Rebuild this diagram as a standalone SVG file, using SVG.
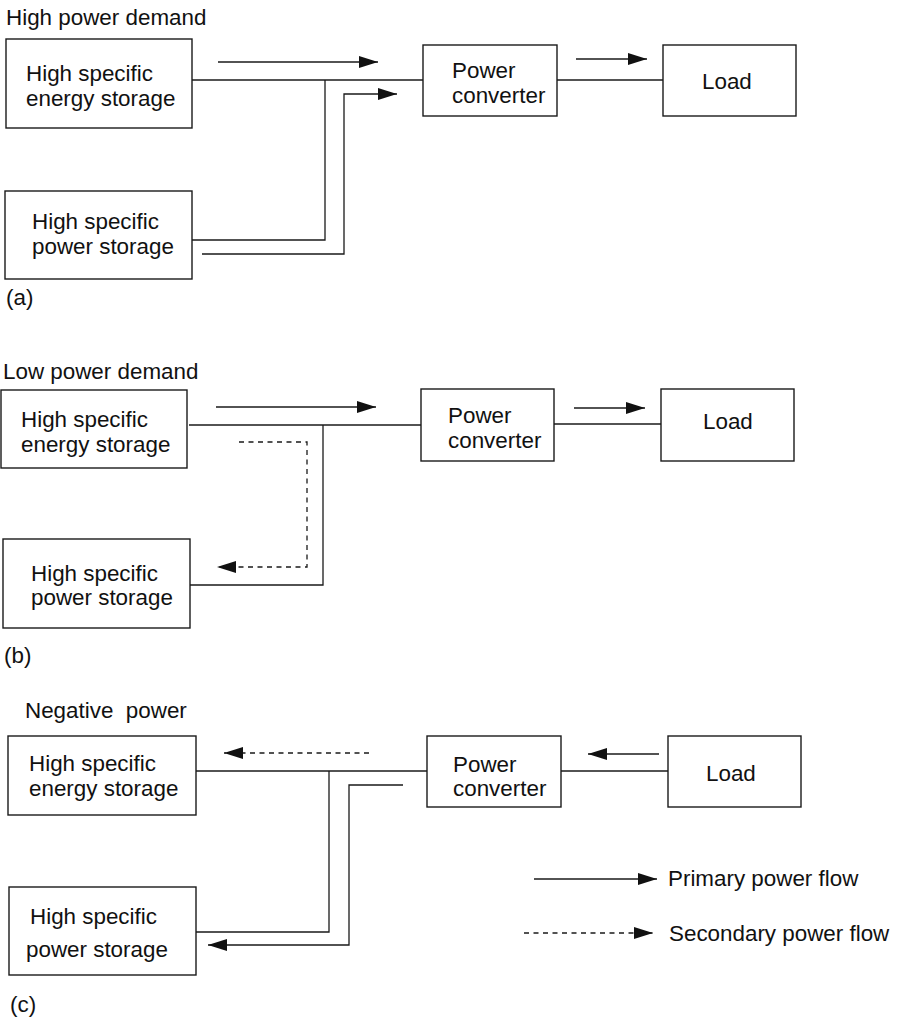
<svg xmlns="http://www.w3.org/2000/svg" width="897" height="1018" viewBox="0 0 897 1018">
<style>
.box{fill:#fff;stroke:#1a1a1a;stroke-width:1.4}
.ln{fill:none;stroke:#1a1a1a;stroke-width:1.3}
.dash{fill:none;stroke:#1a1a1a;stroke-width:1.3;stroke-dasharray:5 4.5}
text{font-family:"Liberation Sans",Arial,sans-serif;font-size:22.4px;fill:#111}
</style>
<defs>
<marker id="ah" markerUnits="userSpaceOnUse" markerWidth="19" markerHeight="12" refX="19" refY="6" orient="auto" viewBox="0 0 19 12">
<path d="M0,0 L19,6 L0,12 z" fill="#111" stroke="none"/>
</marker>
</defs>
<rect width="897" height="1018" fill="#fff"/>

<!-- Panel (a) -->
<text x="6" y="25">High power demand</text>
<text x="6" y="305">(a)</text>
<g id="a-energy"><rect class="box" x="6" y="39" width="186" height="89"/><text x="26" y="81">High specific</text><text x="26" y="106">energy storage</text></g>
<g id="a-power"><rect class="box" x="5" y="191" width="187" height="88"/><text x="32" y="229">High specific</text><text x="32" y="254">power storage</text></g>
<g id="a-conv"><rect class="box" x="423" y="45" width="134" height="71"/><text x="452" y="78">Power</text><text x="452" y="103">converter</text></g>
<g id="a-load"><rect class="box" x="663" y="45" width="133" height="71"/><text x="702" y="89">Load</text></g>

<!-- Panel (b) -->
<text x="3" y="379">Low power demand</text>
<text x="4" y="663">(b)</text>
<g id="b-energy"><rect class="box" x="1" y="390" width="186" height="78"/><text x="21" y="427">High specific</text><text x="21" y="452">energy storage</text></g>
<g id="b-power"><rect class="box" x="3" y="539" width="187" height="89"/><text x="31" y="581">High specific</text><text x="31" y="605">power storage</text></g>
<g id="b-conv"><rect class="box" x="421" y="389" width="133" height="72"/><text x="448" y="423">Power</text><text x="448" y="448">converter</text></g>
<g id="b-load"><rect class="box" x="661" y="389" width="133" height="72"/><text x="703" y="429">Load</text></g>

<!-- Panel (c) -->
<text x="25" y="718" xml:space="preserve">Negative  power</text>
<text x="10" y="1012">(c)</text>
<g id="c-energy"><rect class="box" x="8" y="736" width="188" height="79"/><text x="29" y="771">High specific</text><text x="29" y="796">energy storage</text></g>
<g id="c-power"><rect class="box" x="9" y="887" width="187" height="88"/><text x="30" y="924">High specific</text><text x="26" y="957">power storage</text></g>
<g id="c-conv"><rect class="box" x="427" y="736" width="134" height="71"/><text x="453" y="772">Power</text><text x="453" y="796">converter</text></g>
<g id="c-load"><rect class="box" x="668" y="736" width="133" height="71"/><text x="706" y="781">Load</text></g>

<!-- Legend -->
<g id="legend">
<text x="668" y="886">Primary power flow</text>
<text x="669" y="941">Secondary power flow</text>
</g>

<g id="connectors">
<!-- (a) -->
<path class="ln" d="M192,80 H423"/>
<path class="ln" d="M192,240 H325 V80"/>
<path class="ln" d="M202,254 H344 V94 H397" marker-end="url(#ah)"/>
<path class="ln" d="M218,62 H378" marker-end="url(#ah)"/>
<path class="ln" d="M557,80 H663"/>
<path class="ln" d="M576,59 H647" marker-end="url(#ah)"/>
<!-- (b) -->
<path class="ln" d="M189,425 H421"/>
<path class="ln" d="M190,585 H323 V425"/>
<path class="ln" d="M216,407 H376" marker-end="url(#ah)"/>
<path class="dash" d="M239,442 H307 V567 H217" marker-end="url(#ah)"/>
<path class="ln" d="M554,424 H661"/>
<path class="ln" d="M574,408 H645" marker-end="url(#ah)"/>
<!-- (c) -->
<path class="ln" d="M196,771 H427"/>
<path class="ln" d="M196,932 H329 V771"/>
<path class="ln" d="M403,785 H349 V945 H208" marker-end="url(#ah)"/>
<path class="dash" d="M369,753 H224" marker-end="url(#ah)"/>
<path class="ln" d="M561,771 H668"/>
<path class="ln" d="M659,754 H588" marker-end="url(#ah)"/>
<!-- legend -->
<path class="ln" d="M534,879 H657" marker-end="url(#ah)"/>
<path class="dash" d="M524,933 H653" marker-end="url(#ah)"/>
</g>
</svg>
